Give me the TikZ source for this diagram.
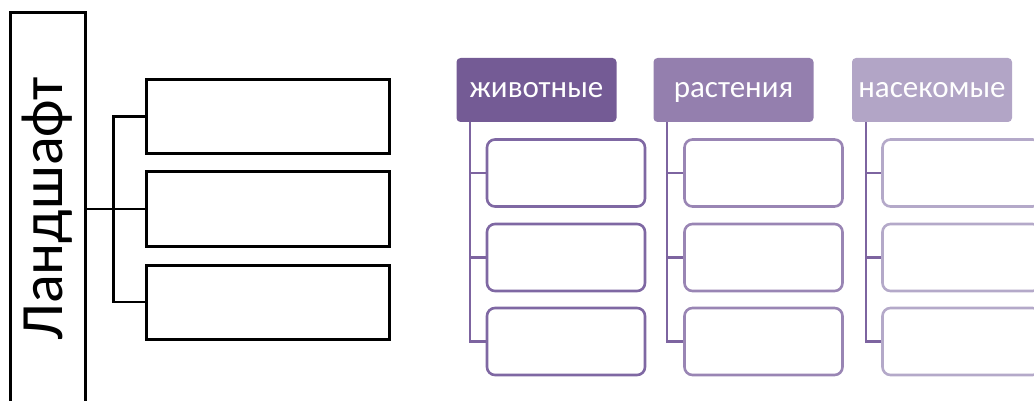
\documentclass[tikz,border=0pt]{standalone}
\usepackage{fontspec}
\setmainfont{Carlito}
\definecolor{hA}{HTML}{745B95}
\definecolor{hB}{HTML}{947FAE}
\definecolor{hC}{HTML}{B2A5C6}
\definecolor{bA}{HTML}{7F68A3}
\definecolor{bB}{HTML}{9985B4}
\definecolor{bC}{HTML}{B4A9C9}
\definecolor{conn}{HTML}{7D64A0}
\begin{document}
\begin{tikzpicture}[x=1pt,y=-1pt,
  blackbox/.style={draw=black,line width=3pt,minimum width=243pt,minimum height=74pt,inner sep=0pt,anchor=center},
  blackline/.style={draw=black,line width=2.2pt},
  header/.style={rounded corners=4pt,minimum width=160pt,minimum height=64pt,inner sep=0pt,text=white,font=\fontsize{31}{34}\selectfont,text height=15pt,text depth=0pt},
  childbox/.style={draw,rounded corners=8pt,line width=2.6pt,minimum width=158pt,minimum height=67pt,inner sep=0pt,fill=white},
  purpline/.style={draw=conn,line width=2.2pt}]
\useasboundingbox (0,0) rectangle (1034,401);
\clip (0,0) rectangle (1034,401);
% left part
\node[draw=black,line width=3pt,minimum width=75pt,minimum height=420pt,inner sep=0pt] (land) at (47.5,223) {};
\node[rotate=90,font=\fontsize{60}{62}\selectfont,inner sep=0pt] (landtext) at (47,209) {Ландшафт};
\node[blackbox] (l1) at (267.5,116.5) {};
\node[blackbox] (l2) at (267.5,209) {};
\node[blackbox] (l3) at (267.5,302) {};
\draw[blackline] (land.east |- l2.west) -- (l2.west);
\draw[blackline] (l1.west) -- ++(-31,0) |- (l3.west);
% right part
\node[header,fill=hA] (h1) at (536.5,90) {животные};
\node[header,fill=hB] (h2) at (733.5,90) {растения};
\node[header,fill=hC] (h3) at (932,90) {насекомые};
\node[childbox,draw=bA] (c11) at (566,173) {};
\node[childbox,draw=bA] (c12) at (566,257.5) {};
\node[childbox,draw=bA] (c13) at (566,341.5) {};
\node[childbox,draw=bB] (c21) at (763.5,173) {};
\node[childbox,draw=bB] (c22) at (763.5,257.5) {};
\node[childbox,draw=bB] (c23) at (763.5,341.5) {};
\node[childbox,draw=bC] (c31) at (961.5,173) {};
\node[childbox,draw=bC] (c32) at (961.5,257.5) {};
\node[childbox,draw=bC] (c33) at (961.5,341.5) {};
\foreach \h/\c in {h1/c1,h2/c2,h3/c3}{
  \draw[purpline] ([xshift=14pt]\h.south west) |- (\c3.west);
  \draw[purpline] ([xshift=14pt]\h.south west |- \c1.west) -- (\c1.west);
  \draw[purpline] ([xshift=14pt]\h.south west |- \c2.west) -- (\c2.west);
}
\end{tikzpicture}
\end{document}
